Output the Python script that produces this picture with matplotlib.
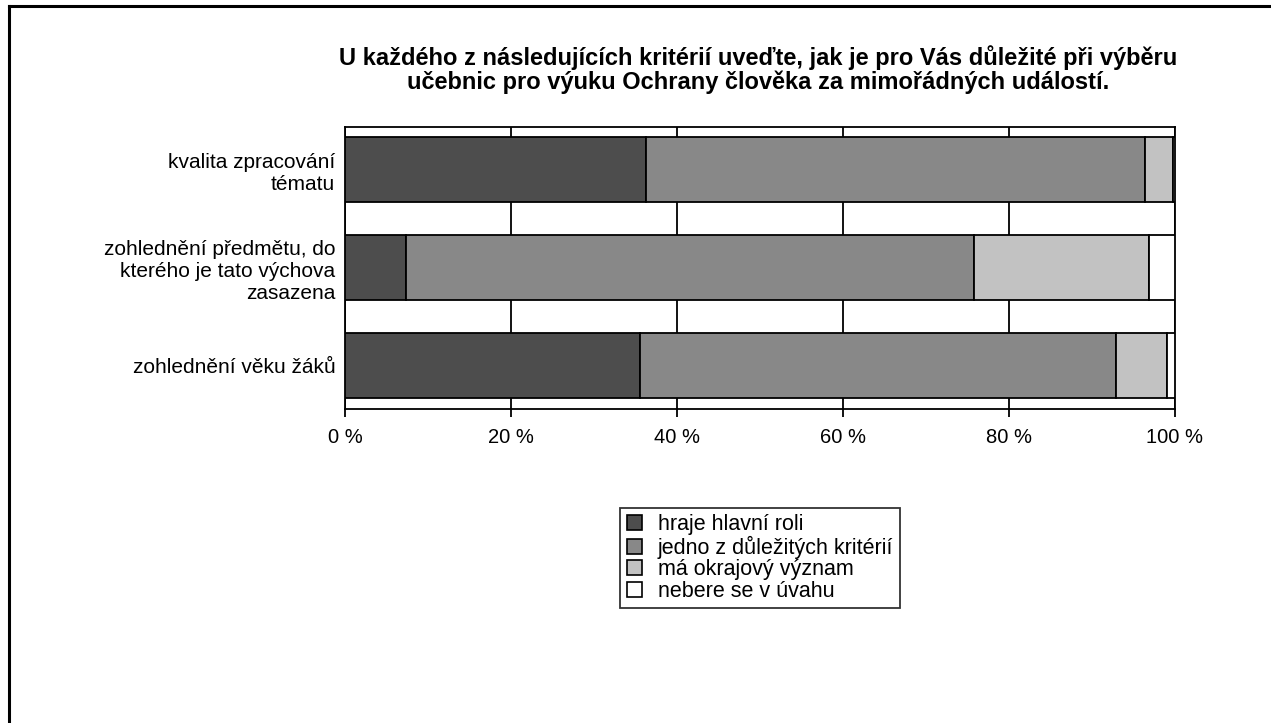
import numpy as np
import matplotlib.pyplot as plt
from matplotlib.patches import Patch
from matplotlib.lines import Line2D

plt.rcParams['font.family'] = ['Liberation Sans', 'DejaVu Sans']

# Data (percent of respondents)
categories = ['kvalita zpracování\ntématu',
              'zohlednění předmětu, do\nkterého je tato výchova\nzasazena',
              'zohlednění věku žáků']
series = ['hraje hlavní roli', 'jedno z důležitých kritérií',
          'má okrajový význam', 'nebere se v úvahu']
hlavni = [36.3, 7.4, 35.6]
dulezite = [60.1, 68.4, 57.3]
okrajovy = [3.4, 21.1, 6.1]
nebere = [0.2, 3.1, 1.0]

colors = ['#4d4d4d', '#888888', '#c2c2c2', '#ffffff']
title = ('U každého z následujících kritérií uveďte, jak je pro Vás důležité při výběru\n'
         'učebnic pro výuku Ochrany člověka za mimořádných událostí.')

W, H = 1271, 723
fig = plt.figure(figsize=(W / 100, H / 100), dpi=100)
ax = fig.add_axes([345 / W, 1 - 409 / H, 830 / W, 282 / H])

y = np.arange(len(categories))
left = np.zeros(len(categories))
for vals, col, name in zip([hlavni, dulezite, okrajovy, nebere], colors, series):
    ax.barh(y, vals, left=left, height=0.667, color=col, edgecolor='black',
            linewidth=1.3, label=name, zorder=3)
    left += np.array(vals)

ax.set_xlim(0, 100)
ax.set_ylim(2.45, -0.44)
ax.set_xticks(range(0, 101, 20))
ax.set_xticklabels([f'{v} %' for v in range(0, 101, 20)], fontsize=14.5)
ax.set_yticks(y)
ax.set_yticklabels(categories, fontsize=15, linespacing=1.2)
ax.tick_params(axis='y', length=0, pad=7)
ax.tick_params(axis='x', length=6, width=1.3, direction='out', pad=8)
ax.grid(axis='x', color='black', linewidth=1.3, zorder=0)
ax.set_axisbelow(True)
for s in ax.spines.values():
    s.set_linewidth(1.3)
    s.set_color('black')

fig.text(758 / W, 1 - 45 / H, title, ha='center', va='top', fontsize=17,
         fontweight='bold', linespacing=1.05)

handles = [Patch(facecolor=c, edgecolor='black', linewidth=1.2) for c in colors]
leg = ax.legend(handles, series, loc='upper center',
                bbox_to_anchor=(760 / W, 1 - 508 / H), bbox_transform=fig.transFigure,
                fontsize=15.5, frameon=True, fancybox=False, edgecolor='black',
                handlelength=0.7, handleheight=0.7, handletextpad=0.75,
                labelspacing=0.02, borderpad=0.3, borderaxespad=0)
leg.get_frame().set_linewidth(1.3)

# outer chart border (left and top edges visible)
fig.add_artist(Line2D([8.5 / W, 8.5 / W], [0, 1 - 5.5 / H], color='black',
                      linewidth=2.2, transform=fig.transFigure))
fig.add_artist(Line2D([8.5 / W, 1], [1 - 5.5 / H, 1 - 5.5 / H], color='black',
                      linewidth=2.2, transform=fig.transFigure))

fig.savefig('out.png', dpi=100)
